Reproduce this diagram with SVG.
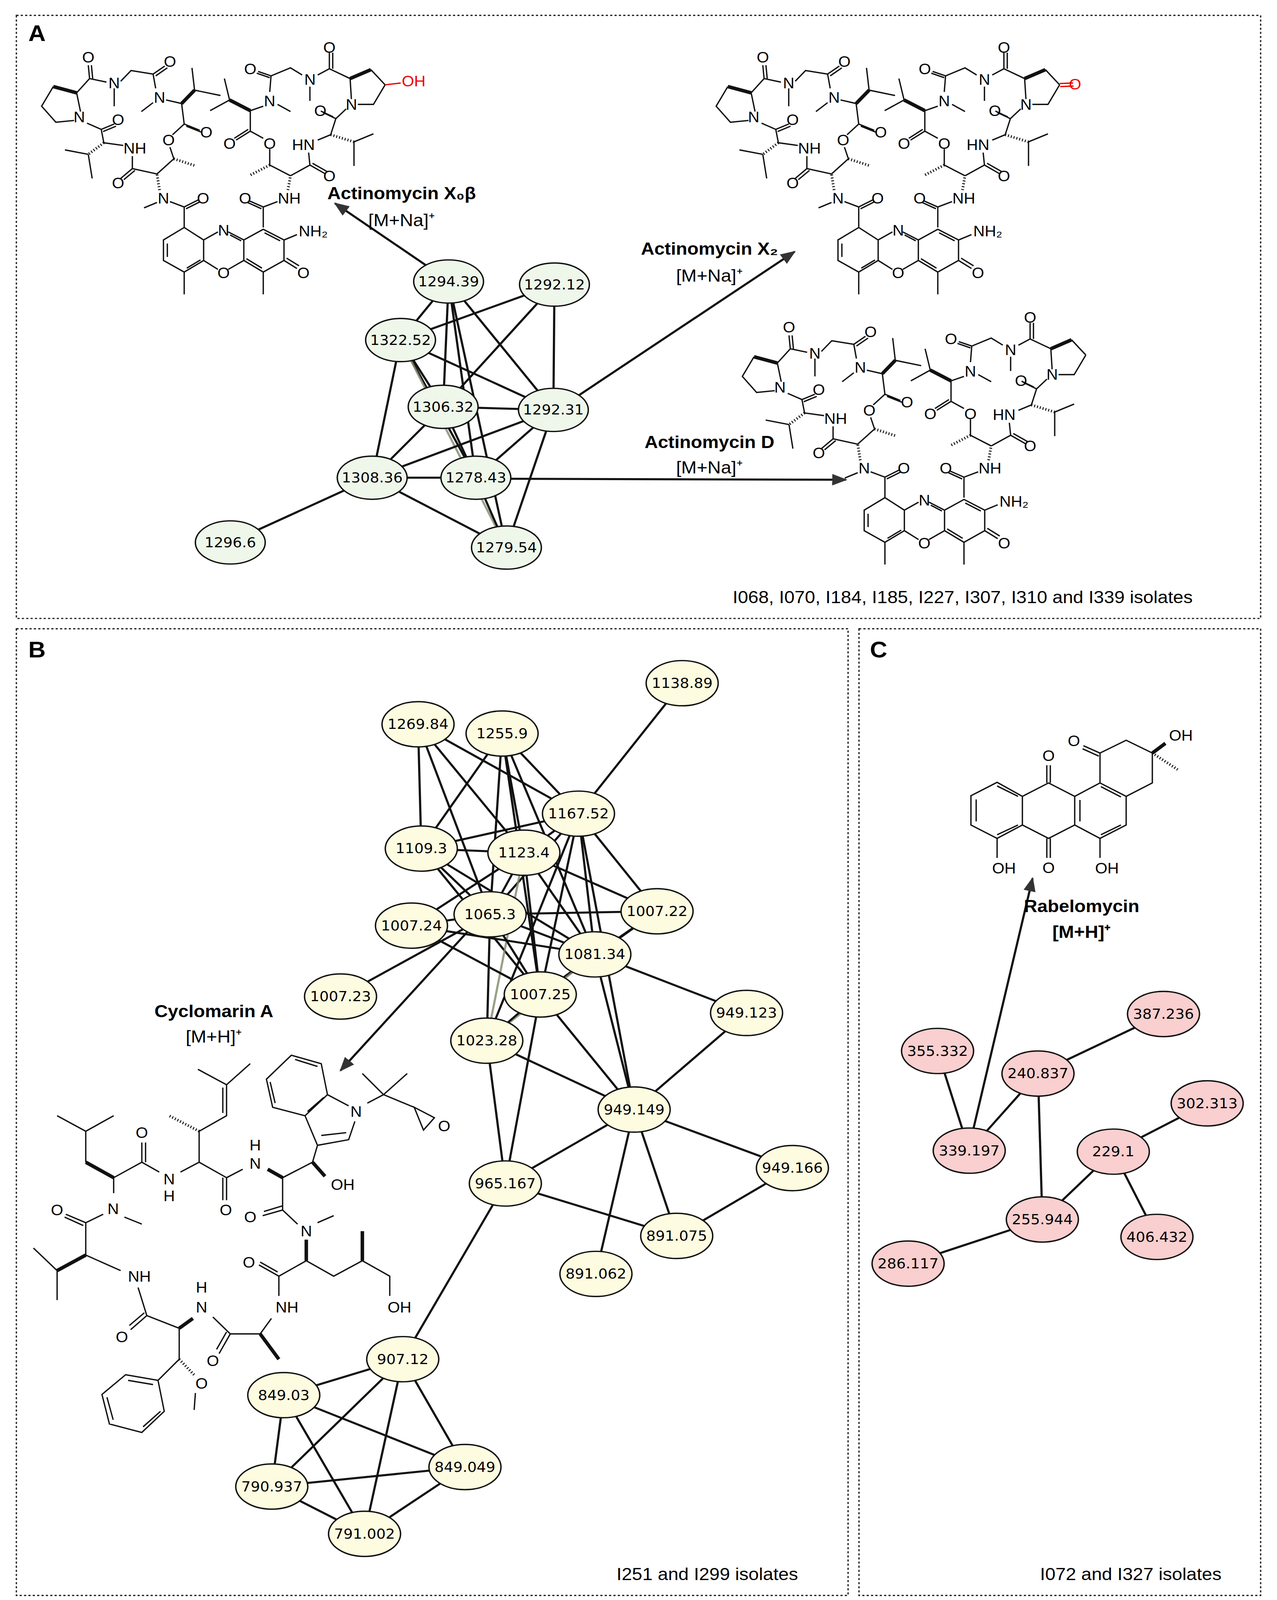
<svg xmlns="http://www.w3.org/2000/svg" xmlns:xlink="http://www.w3.org/1999/xlink" width="3268" height="4384" viewBox="0 0 3268 4384">
<style>
.panel{fill:none;stroke:#222;stroke-width:1.2;stroke-dasharray:2,2}
.pl{font-family:"Liberation Sans",Arial,sans-serif;font-weight:bold;font-size:22px}
.lab{font-family:"Liberation Sans",Arial,sans-serif;font-size:17px}
.labb{font-family:"Liberation Sans",Arial,sans-serif;font-size:17px;font-weight:bold}
.iso{font-family:"Liberation Sans",Arial,sans-serif;font-size:17px}
.nt{font-family:"DejaVu Sans",sans-serif;font-size:13.5px;text-anchor:middle;dominant-baseline:central}
.na ellipse{fill:#eef7ea;stroke:#111;stroke-width:1.3}
.nb ellipse{fill:#fdfbe0;stroke:#111;stroke-width:1.3}
.nc ellipse{fill:#f9cfcf;stroke:#111;stroke-width:1.3}
.e line{stroke:#111;stroke-width:2}
.g{stroke:#7f8a6a !important;opacity:.8}
.arr{stroke:#333;stroke-width:1.3;marker-end:url(#ah)}
.ch{fill:none;stroke:#111;stroke-width:3.4;vector-effect:non-scaling-stroke}
.wd{fill:none;stroke:#111;stroke-width:9;vector-effect:non-scaling-stroke}
.hs{fill:none;stroke:#111;stroke-width:7;stroke-dasharray:2.5,5;vector-effect:non-scaling-stroke}
.red{fill:none;stroke:#e00;stroke-width:3.4;vector-effect:non-scaling-stroke}
.at{font-family:"Liberation Sans",Arial,sans-serif;font-size:14.5px;text-anchor:middle;dominant-baseline:central}
</style>
<defs>
<marker id="ah" viewBox="0 0 10 10" refX="9" refY="5" markerWidth="7" markerHeight="7" orient="auto"><path d="M0,1L10,5L0,9z" fill="#333"/></marker>
<g id="actino">
<g transform="matrix(0.2375,0,0,0.1736,32.2,32.2)">
<path class="ch" d="M575,1090L495,1160L495,1275L575,1340L650,1275L650,1160L575,1090M510,1180L510,1255M585,1318L638,1272M650,1160L705,1115M745,1115L805,1160L805,1275L745,1325M705,1325L650,1275M752,1132L795,1165M805,1160L880,1100L960,1160L960,1275L880,1340L805,1275M885,1120L945,1165M815,1265L875,1318M960,1160L1010,1130M960,1275L1010,1320M970,1262L1018,1305M575,1340L575,1465M880,1340L880,1465M575,1090L575,975L630,935M582,985L636,946M575,975L520,945M470,950L420,980M880,1090L880,975L825,940M873,985L820,950M880,975L935,945"/>
<path class="ch" d="M470,790L375,760L330,815M385,770L342,822M375,760L375,690M340,630L265,615M205,680L115,655M205,680L220,815M265,615L255,540L305,510M262,552L312,522M255,540L200,505M150,490L80,500L25,410L70,300M160,335L175,440M160,335L210,255L205,180M222,255L217,180M210,255L275,275M305,310L305,410M330,270L370,210L455,230L500,185M465,240L510,195M455,230L465,310M455,390L410,440M505,375L565,395M615,320L605,195M615,320L715,350M565,395L575,510L635,545M583,522L640,555M575,510L530,570M520,640L535,705M535,705L470,790"/>
<path class="ch" d="M985,800L1060,740L1120,790M1070,730L1128,778M1060,740L1055,670M1090,600L1140,570M1230,610L1305,565M1230,610L1230,745M1140,570L1160,480L1110,445M1150,470L1102,437M1160,480L1200,425M1245,400L1305,400L1350,290M1215,255L1220,370M1295,205L1350,290M1215,255L1135,200L1135,110M1148,200L1148,110M1135,200L1090,235M1060,300L1060,380M1030,235L985,195L910,240L860,215M905,250L855,225M910,240L905,330M935,400L985,440M880,410L830,435M750,375L730,255M750,375L675,435M830,550L775,600M822,540L768,590M830,435L830,550L880,590M905,650L905,740M905,740L985,800"/>
<path class="wd" d="M160,335L70,300M565,395L615,320M1215,255L1295,205M830,435L750,375"/>
<path class="hs" d="M480,880L470,790M975,880L985,800M265,615L205,680M535,705L620,745M1140,570L1230,610M905,740L825,800"/>
</g>
<text class="at" x="80.9" y="55.6">O</text><text class="at" x="155.7" y="60">O</text><text class="at" x="104.6" y="80.8">N</text><text class="at" x="146.2" y="94.7">N</text><text class="at" x="72.6" y="113.8">N</text><text class="at" x="108.2" y="116.4">O</text><text class="at" x="189" y="128.5">O</text><text class="at" x="154.5" y="136.4">O</text><text class="at" x="123.6" y="144.2">NH</text><text class="at" x="108.2" y="178">O</text><text class="at" x="149.8" y="192.8">N</text><text class="at" x="186.1" y="192.8">O</text><text class="at" x="224.6" y="192.8">O</text><text class="at" x="265" y="192.8">NH</text><text class="at" x="204.9" y="224">N</text><text class="at" x="287" y="224.9">NH₂</text><text class="at" x="204.9" y="265.7">O</text><text class="at" x="278" y="265.7">O</text><text class="at" x="229.3" y="66.9">O</text><text class="at" x="301.8" y="46.1">O</text><text class="at" x="284" y="77.3">N</text><text class="at" x="247.1" y="98.2">N</text><text class="at" x="293.5" y="107.7">O</text><text class="at" x="322" y="101.6">N</text><text class="at" x="210.3" y="139.8">O</text><text class="at" x="247.1" y="139.8">O</text><text class="at" x="278" y="140.7">HN</text><text class="at" x="301.8" y="171.1">O</text>
</g>
</defs>
<rect width="3268" height="4384" fill="#fff"/>
<g transform="scale(2.7932,2.63)">
<rect class="panel" x="15" y="15" width="1140" height="587"/>
<rect class="panel" x="15" y="612" width="762" height="941"/>
<rect class="panel" x="787" y="612" width="368" height="941"/>
<text class="pl" x="26" y="40">A</text><text class="pl" x="26" y="640">B</text><text class="pl" x="797" y="640">C</text>
<g id="structures">
<use xlink:href="#actino"/>
<g transform="matrix(0.2375,0,0,0.1736,32.2,32.2)"><path class="red" d="M1350,290L1410,280"/></g>
<text class="at" x="379" y="79" fill="#e00">OH</text>
<use xlink:href="#actino" x="618" y="0"/>
<g transform="matrix(0.2375,0,0,0.1736,650.2,32.2)"><path class="red" d="M1350,283L1402,280M1352,300L1404,297"/></g>
<text class="at" x="985" y="82" fill="#e00">O</text>
<use xlink:href="#actino" x="642" y="263"/>
<g transform="matrix(0.1598,0,0,0.1187,866.4,680.2)">
<path class="ch" d="M295,685L145,795L145,1035L295,1145L440,1035L440,800Z M175,825L175,1005M295,715L415,800M295,1115L415,1035M440,800L590,690L740,800L740,1035L590,1145L440,1035M770,830L770,1005M580,690L580,545M600,690L600,545M580,1145L580,1305M600,1145L600,1305M740,800L885,690L1035,800L1035,1035L885,1145L740,1035M890,720L1005,805M890,1115L1005,1035M295,1145L295,1305M885,1145L885,1305M885,690L885,445L1035,340L1185,445L1185,690L1035,800M885,445L790,385M878,470L785,410"/>
<path class="wd" d="M1185,445L1260,365"/><path class="hs" d="M1185,445L1330,580"/>
</g>
<text class="at" x="983.9" y="721.2">O</text><text class="at" x="960.7" y="735.4">O</text><text class="at" x="960.7" y="844.6">O</text><text class="at" x="919.9" y="845.2">OH</text><text class="at" x="1014.2" y="845.2">OH</text><text class="at" x="1082" y="715.8">OH</text>
<g transform="matrix(0.2283,0,0,0.274,21.5,1020.3)">
<path class="ch" d="M135,240L250,295L362,240M250,295L250,405M362,460L475,405L475,335M490,405L490,335M475,405L545,440M630,440L705,405L705,295L815,240L815,130L700,75M800,230L800,140M815,130L910,55M705,405L815,460L815,540M800,460L800,540M815,460L880,430M1040,460L1160,405M1160,405L1180,345L1130,240L1000,210L975,110L1075,25L1195,55L1220,165L1305,205M1220,165L1130,240M1330,260L1305,325L1180,345M1195,310L1295,300M1010,195L990,120M1090,40L1180,65M1140,225L1205,175M1380,195L1445,165L1360,90M1445,165L1540,90M1445,165L1568,210M1040,460L1040,575L960,595M1040,560L965,580M1040,575L1100,625M1180,620L1245,595M1135,755L1025,810L945,770M1020,795L950,760M1135,755L1245,810L1360,755L1470,810L1470,880M1025,810L1025,880M995,960L950,1015L830,1015L785,1085M815,1008L775,1070M830,1015L760,955M625,995L495,950L430,1000M485,940L425,985M495,950L460,850M390,790L250,735M135,790L40,710M135,790L135,895M250,735L250,620L170,590M240,630L165,600M250,620L320,590M405,600L475,625M362,515L362,460M625,995L625,1105L540,1180L410,1160L315,1230L345,1335L475,1365L565,1290L540,1180M420,1180L520,1195M335,1240L360,1320M480,1345L550,1290M690,1225L685,1285"/>
<path class="wd" d="M250,405L362,460M980,430L1040,460M1160,405L1210,455M1135,680L1135,755M1360,755L1360,650M950,1015L1025,1105M680,960L625,995M250,735L135,790"/>
<path class="hs" d="M705,295L585,240M625,1105L690,1165"/>
</g>
<path class="ch" d="M379.5,1077.8L388,1100L398,1088Z"/>
<text class="at" x="407" y="1096">O</text>
<text class="at" x="130" y="1102.5">O</text><text class="at" x="155" y="1147.7">N</text><text class="at" x="155" y="1164">H</text><text class="at" x="206.9" y="1177.8">O</text><text class="at" x="233.8" y="1114.8">H</text><text class="at" x="233.8" y="1132.6">N</text><text class="at" x="314" y="1153.2">OH</text><text class="at" x="326.3" y="1082">N</text><text class="at" x="52.3" y="1177.8">O</text><text class="at" x="103.7" y="1176.5">N</text><text class="at" x="229.3" y="1184.7">O</text><text class="at" x="280.6" y="1198.4">N</text><text class="at" x="228.1" y="1228.5">O</text><text class="at" x="127.7" y="1242.2">NH</text><text class="at" x="366" y="1272.4">OH</text><text class="at" x="263" y="1272.4">NH</text><text class="at" x="184.7" y="1253.2">H</text><text class="at" x="184.7" y="1272.4">N</text><text class="at" x="111.7" y="1301.2">O</text><text class="at" x="195" y="1324.4">O</text><text class="at" x="184.7" y="1346.4">O</text>
</g>
<g id="connectors" class="e">
<line x1="411" y1="274" x2="367" y2="331"/><line x1="411" y1="274" x2="406" y2="396"/><line x1="411" y1="274" x2="507" y2="399"/><line x1="411" y1="274" x2="436" y2="465"/><line x1="411" y1="274" x2="464" y2="533"/>
<line x1="508" y1="277" x2="367" y2="331"/><line x1="508" y1="277" x2="507" y2="399"/><line x1="508" y1="277" x2="406" y2="396"/>
<line x1="367" y1="331" x2="406" y2="396"/><line x1="367" y1="331" x2="507" y2="399"/><line x1="367" y1="331" x2="341" y2="465"/><line x1="367" y1="331" x2="436" y2="465"/><line class="g" x1="367" y1="331" x2="464" y2="533"/>
<line x1="406" y1="396" x2="507" y2="399"/><line x1="406" y1="396" x2="341" y2="465"/><line x1="406" y1="396" x2="436" y2="465"/>
<line x1="507" y1="399" x2="341" y2="465"/><line x1="507" y1="399" x2="436" y2="465"/><line x1="507" y1="399" x2="464" y2="533"/>
<line x1="341" y1="465" x2="436" y2="465"/><line x1="341" y1="465" x2="464" y2="533"/><line x1="341" y1="465" x2="211" y2="528"/><line x1="436" y1="465" x2="464" y2="533"/>
<line x1="625" y1="665" x2="530" y2="792"/>
<line x1="383" y1="705" x2="386" y2="826"/><line x1="383" y1="705" x2="530" y2="792"/><line x1="383" y1="705" x2="480" y2="830"/><line x1="383" y1="705" x2="449" y2="890"/>
<line x1="460" y1="714" x2="386" y2="826"/><line x1="460" y1="714" x2="530" y2="792"/><line x1="460" y1="714" x2="480" y2="830"/><line x1="460" y1="714" x2="449" y2="890"/><line x1="460" y1="714" x2="545" y2="929"/><line x1="460" y1="714" x2="495" y2="968"/>
<line x1="530" y1="792" x2="480" y2="830"/><line x1="530" y1="792" x2="386" y2="826"/><line x1="530" y1="792" x2="449" y2="890"/><line x1="530" y1="792" x2="545" y2="929"/><line x1="530" y1="792" x2="602" y2="887"/><line x1="530" y1="792" x2="495" y2="968"/><line x1="530" y1="792" x2="446" y2="1013"/><line x1="530" y1="792" x2="581" y2="1080"/>
<line x1="386" y1="826" x2="480" y2="830"/><line x1="386" y1="826" x2="449" y2="890"/><line x1="386" y1="826" x2="545" y2="929"/><line x1="386" y1="826" x2="495" y2="968"/>
<line x1="480" y1="830" x2="449" y2="890"/><line x1="480" y1="830" x2="377" y2="901"/><line x1="480" y1="830" x2="545" y2="929"/><line x1="480" y1="830" x2="602" y2="887"/><line x1="480" y1="830" x2="495" y2="968"/><line class="g" x1="480" y1="830" x2="446" y2="1013"/>
<line x1="602" y1="887" x2="449" y2="890"/><line x1="602" y1="887" x2="545" y2="929"/><line x1="602" y1="887" x2="495" y2="968"/>
<line x1="377" y1="901" x2="449" y2="890"/><line x1="377" y1="901" x2="545" y2="929"/><line x1="377" y1="901" x2="495" y2="968"/>
<line x1="449" y1="890" x2="545" y2="929"/><line x1="449" y1="890" x2="495" y2="968"/><line x1="449" y1="890" x2="446" y2="1013"/><line x1="449" y1="890" x2="312" y2="970"/>
<line x1="545" y1="929" x2="495" y2="968"/><line class="g" x1="545" y1="929" x2="446" y2="1013"/><line x1="545" y1="929" x2="684" y2="986"/><line x1="545" y1="929" x2="581" y2="1080"/>
<line x1="495" y1="968" x2="446" y2="1013"/><line x1="495" y1="968" x2="463" y2="1152"/><line x1="495" y1="968" x2="581" y2="1080"/>
<line x1="446" y1="1013" x2="581" y2="1080"/><line x1="446" y1="1013" x2="463" y2="1152"/>
<line x1="684" y1="986" x2="581" y2="1080"/>
<line x1="581" y1="1080" x2="463" y2="1152"/><line x1="581" y1="1080" x2="620" y2="1203"/><line x1="581" y1="1080" x2="546" y2="1240"/><line x1="581" y1="1080" x2="726" y2="1137"/>
<line x1="726" y1="1137" x2="620" y2="1203"/><line x1="463" y1="1152" x2="620" y2="1203"/><line x1="463" y1="1152" x2="369" y2="1323"/>
<line x1="369" y1="1323" x2="260" y2="1358"/><line x1="369" y1="1323" x2="249" y2="1447"/><line x1="369" y1="1323" x2="426" y2="1428"/><line x1="369" y1="1323" x2="334" y2="1493"/>
<line x1="260" y1="1358" x2="426" y2="1428"/><line x1="260" y1="1358" x2="249" y2="1447"/><line x1="260" y1="1358" x2="334" y2="1493"/>
<line x1="426" y1="1428" x2="249" y2="1447"/><line x1="426" y1="1428" x2="334" y2="1493"/><line x1="249" y1="1447" x2="334" y2="1493"/>
<line x1="1066" y1="987" x2="951" y2="1045"/><line x1="859" y1="1023" x2="888" y2="1120"/><line x1="951" y1="1045" x2="888" y2="1120"/><line x1="951" y1="1045" x2="955" y2="1187"/>
<line x1="1106" y1="1074" x2="1020" y2="1121"/><line x1="1020" y1="1121" x2="955" y2="1187"/><line x1="1020" y1="1121" x2="1060" y2="1204"/><line x1="955" y1="1187" x2="832" y2="1230"/>
<line class="arr" x1="390" y1="258" x2="307" y2="198"/><line class="arr" x1="530" y1="385" x2="728" y2="245"/><line class="arr" x1="466" y1="466" x2="775" y2="467"/>
<line class="arr" x1="430" y1="905" x2="312" y2="1042"/><line class="arr" x1="892" y1="1098" x2="946" y2="855"/>
</g>
<g class="na">
<g id="a1"><ellipse cx="411" cy="274" rx="32" ry="21"/><text class="nt" x="411" y="274">1294.39</text></g>
<g id="a2"><ellipse cx="508" cy="277" rx="32" ry="21"/><text class="nt" x="508" y="277">1292.12</text></g>
<g id="a3"><ellipse cx="367" cy="331" rx="32" ry="21"/><text class="nt" x="367" y="331">1322.52</text></g>
<g id="a4"><ellipse cx="406" cy="396" rx="32" ry="21"/><text class="nt" x="406" y="396">1306.32</text></g>
<g id="a5"><ellipse cx="507" cy="399" rx="32" ry="21"/><text class="nt" x="507" y="399">1292.31</text></g>
<g id="a6"><ellipse cx="341" cy="465" rx="32" ry="21"/><text class="nt" x="341" y="465">1308.36</text></g>
<g id="a7"><ellipse cx="436" cy="465" rx="32" ry="21"/><text class="nt" x="436" y="465">1278.43</text></g>
<g id="a8"><ellipse cx="211" cy="528" rx="32" ry="21"/><text class="nt" x="211" y="528">1296.6</text></g>
<g id="a9"><ellipse cx="464" cy="533" rx="32" ry="21"/><text class="nt" x="464" y="533">1279.54</text></g>
</g>
<g class="nb">
<g id="b1"><ellipse cx="625" cy="665" rx="33" ry="22"/><text class="nt" x="625" y="665">1138.89</text></g>
<g id="b2"><ellipse cx="383" cy="705" rx="33" ry="22"/><text class="nt" x="383" y="705">1269.84</text></g>
<g id="b3"><ellipse cx="460" cy="714" rx="33" ry="22"/><text class="nt" x="460" y="714">1255.9</text></g>
<g id="b4"><ellipse cx="530" cy="792" rx="33" ry="22"/><text class="nt" x="530" y="792">1167.52</text></g>
<g id="b5"><ellipse cx="386" cy="826" rx="33" ry="22"/><text class="nt" x="386" y="826">1109.3</text></g>
<g id="b6"><ellipse cx="480" cy="830" rx="33" ry="22"/><text class="nt" x="480" y="830">1123.4</text></g>
<g id="b7"><ellipse cx="602" cy="887" rx="33" ry="22"/><text class="nt" x="602" y="887">1007.22</text></g>
<g id="b8"><ellipse cx="377" cy="901" rx="33" ry="22"/><text class="nt" x="377" y="901">1007.24</text></g>
<g id="b9"><ellipse cx="449" cy="890" rx="33" ry="22"/><text class="nt" x="449" y="890">1065.3</text></g>
<g id="b10"><ellipse cx="545" cy="929" rx="33" ry="22"/><text class="nt" x="545" y="929">1081.34</text></g>
<g id="b11"><ellipse cx="312" cy="970" rx="33" ry="22"/><text class="nt" x="312" y="970">1007.23</text></g>
<g id="b12"><ellipse cx="495" cy="968" rx="33" ry="22"/><text class="nt" x="495" y="968">1007.25</text></g>
<g id="b13"><ellipse cx="684" cy="986" rx="33" ry="22"/><text class="nt" x="684" y="986">949.123</text></g>
<g id="b14"><ellipse cx="446" cy="1013" rx="33" ry="22"/><text class="nt" x="446" y="1013">1023.28</text></g>
<g id="b15"><ellipse cx="581" cy="1080" rx="33" ry="22"/><text class="nt" x="581" y="1080">949.149</text></g>
<g id="b16"><ellipse cx="726" cy="1137" rx="33" ry="22"/><text class="nt" x="726" y="1137">949.166</text></g>
<g id="b17"><ellipse cx="463" cy="1152" rx="33" ry="22"/><text class="nt" x="463" y="1152">965.167</text></g>
<g id="b18"><ellipse cx="620" cy="1203" rx="33" ry="22"/><text class="nt" x="620" y="1203">891.075</text></g>
<g id="b19"><ellipse cx="546" cy="1240" rx="33" ry="22"/><text class="nt" x="546" y="1240">891.062</text></g>
<g id="b20"><ellipse cx="369" cy="1323" rx="33" ry="22"/><text class="nt" x="369" y="1323">907.12</text></g>
<g id="b21"><ellipse cx="260" cy="1358" rx="33" ry="22"/><text class="nt" x="260" y="1358">849.03</text></g>
<g id="b22"><ellipse cx="426" cy="1428" rx="33" ry="22"/><text class="nt" x="426" y="1428">849.049</text></g>
<g id="b23"><ellipse cx="249" cy="1447" rx="33" ry="22"/><text class="nt" x="249" y="1447">790.937</text></g>
<g id="b24"><ellipse cx="334" cy="1493" rx="33" ry="22"/><text class="nt" x="334" y="1493">791.002</text></g>
</g>
<g class="nc">
<g id="c1"><ellipse cx="1066" cy="987" rx="33" ry="22"/><text class="nt" x="1066" y="987">387.236</text></g>
<g id="c2"><ellipse cx="859" cy="1023" rx="33" ry="22"/><text class="nt" x="859" y="1023">355.332</text></g>
<g id="c3"><ellipse cx="951" cy="1045" rx="33" ry="22"/><text class="nt" x="951" y="1045">240.837</text></g>
<g id="c4"><ellipse cx="1106" cy="1074" rx="33" ry="22"/><text class="nt" x="1106" y="1074">302.313</text></g>
<g id="c5"><ellipse cx="888" cy="1120" rx="33" ry="22"/><text class="nt" x="888" y="1120">339.197</text></g>
<g id="c6"><ellipse cx="1020" cy="1121" rx="33" ry="22"/><text class="nt" x="1020" y="1121">229.1</text></g>
<g id="c7"><ellipse cx="955" cy="1187" rx="33" ry="22"/><text class="nt" x="955" y="1187">255.944</text></g>
<g id="c8"><ellipse cx="832" cy="1230" rx="33" ry="22"/><text class="nt" x="832" y="1230">286.117</text></g>
<g id="c9"><ellipse cx="1060" cy="1204" rx="33" ry="22"/><text class="nt" x="1060" y="1204">406.432</text></g>
</g>
<g id="labels" text-anchor="middle">
<text class="labb" x="368" y="194">Actinomycin X₀β</text><text class="lab" x="368" y="220">[M+Na]⁺</text>
<text class="labb" x="650" y="248">Actinomycin X₂</text><text class="lab" x="650" y="274">[M+Na]⁺</text>
<text class="labb" x="650" y="436">Actinomycin D</text><text class="lab" x="650" y="461">[M+Na]⁺</text>
<text class="labb" x="196" y="990">Cyclomarin A</text><text class="lab" x="196" y="1015">[M+H]⁺</text>
<text class="labb" x="991" y="888">Rabelomycin</text><text class="labb" x="991" y="913">[M+H]⁺</text>
<text class="iso" x="882" y="587">I068, I070, I184, I185, I227, I307, I310 and I339 isolates</text>
<text class="iso" x="648" y="1538">I251 and I299 isolates</text>
<text class="iso" x="1036" y="1538">I072 and I327 isolates</text>
</g>
</g>
</svg>
